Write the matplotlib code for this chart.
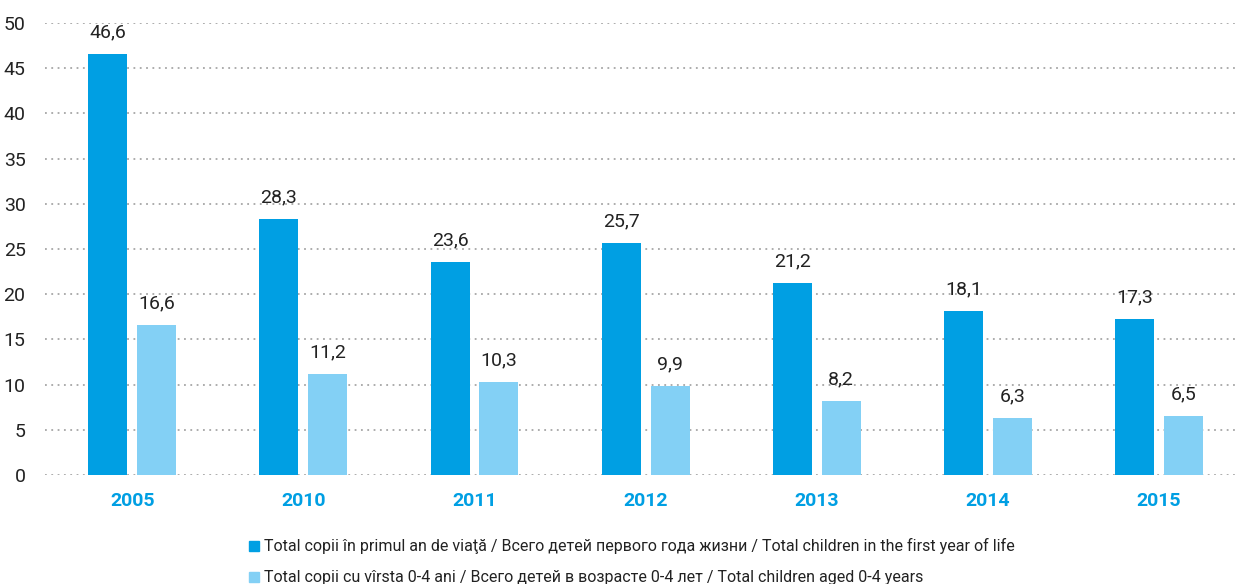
import numpy as np
import matplotlib.pyplot as plt
from matplotlib.patches import Patch

years = ['2005', '2010', '2011', '2012', '2013', '2014', '2015']
first_year = [46.6, 28.3, 23.6, 25.7, 21.2, 18.1, 17.3]
aged_0_4 = [16.6, 11.2, 10.3, 9.9, 8.2, 6.3, 6.5]
labels = ['Total copii în primul an de viaţă / Всего детей первого года жизни / Total children in the first year of life',
          'Total copii cu vîrsta 0-4 ani / Всего детей в возрасте 0-4 лет / Total children aged 0-4 years']

plt.rcParams['font.family'] = ['Roboto', 'DejaVu Sans']
dark, light = '#009fe3', '#83d0f5'

fig = plt.figure(figsize=(12.36, 5.84), dpi=100)
ax = fig.add_axes([0.0364, 0.1866, 0.9636, 0.774])

x = np.arange(len(years))
w = 0.228
b1 = ax.bar(x - 0.143, first_year, w, color=dark, zorder=3)
b2 = ax.bar(x + 0.143, aged_0_4, w, color=light, zorder=3)

for bars in (b1, b2):
    for bar in bars:
        h = bar.get_height()
        ax.text(bar.get_x() + bar.get_width() / 2, h + 1.4, f'{h:.1f}'.replace('.', ','),
                ha='center', va='bottom', fontsize=14, color='#222222')

ax.set_ylim(0, 50)
ax.set_xlim(-0.51, 6.45)
ax.set_yticks(range(0, 51, 5))
ax.yaxis.grid(True, linestyle=(0, (1, 2.5)), color='#a6a6a6', linewidth=1.3, zorder=0)
ax.set_xticks(x)
ax.set_xticklabels(years, fontsize=14, fontweight='bold', color=dark)
ax.tick_params(axis='both', length=0)
ax.tick_params(axis='y', labelsize=14, labelcolor='#222222', pad=14)
ax.tick_params(axis='x', pad=12)
for s in ax.spines.values():
    s.set_visible(False)

handles = [Patch(color=dark), Patch(color=light)]
fig.legend(handles, labels, loc='lower left', bbox_to_anchor=(0.19, -0.027), frameon=False,
           fontsize=11.5, handlelength=0.6, handleheight=0.6, handletextpad=0.3, labelspacing=1.0,
           labelcolor='#222222')

fig.savefig('out.png', dpi=100)
